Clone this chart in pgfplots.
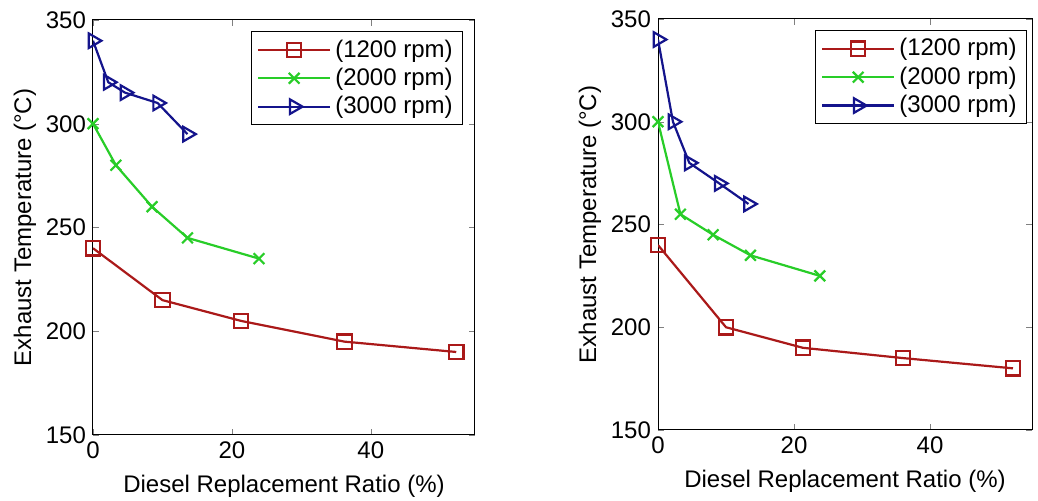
\documentclass[border=0pt]{standalone}
\usepackage{fontspec}
\setmainfont{Liberation Sans}
\usepackage{pgfplots}
\pgfplotsset{compat=1.18}

\definecolor{cred}{RGB}{170,25,25}
\definecolor{cgreen}{RGB}{40,205,40}
\definecolor{cblue}{RGB}{20,20,140}

\pgfplotsset{
  panel/.style={
    scale only axis,
    xmin=0, xmax=55,
    ymin=150, ymax=350,
    xtick={0,20,40},
    ytick={150,200,250,300,350},
    tick align=inside,
    major tick length=3pt,
    axis line style={line width=0.5pt},
    font=\fontsize{12}{14}\selectfont,
    /pgf/number format/assume math mode=true,
    xlabel={Diesel Replacement Ratio (\%)},
    ylabel={Exhaust Temperature (°C)},
    xlabel style={yshift=-1pt},
    ylabel style={yshift=-2pt},
    legend cell align=left,
    legend style={anchor=north east, draw=black, line width=0.5pt,
      font=\fontsize{12}{15}\selectfont, row sep=0pt, inner xsep=3pt},
    legend image code/.code={%
      \draw[mark repeat=2,mark phase=2,#1] plot coordinates {(0pt,0pt) (18pt,0pt) (36pt,0pt)};},
  },
  s1200/.style={color=cred, line width=1.1pt, mark=square, mark size=3.6pt},
  s2000/.style={color=cgreen, line width=1.1pt, mark=x, mark size=3.8pt},
  s3000/.style={color=cblue, line width=1.1pt, mark=triangle, mark size=4.2pt, mark options={rotate=-90}},
}

\begin{document}
\begin{tikzpicture}
\useasboundingbox (0,0) rectangle (519pt,250.5pt);

\begin{axis}[panel, at={(46.5pt,33pt)}, anchor=south west,
  width=191pt, height=207.5pt,
  legend style={at={(0.969,0.973)}}]
\addplot[s1200] coordinates {(0,240) (10,215) (21.3,205) (36.2,195) (52.3,190)};
\addplot[s2000] coordinates {(0,300) (3.3,280) (8.5,260) (13.6,245) (23.9,235)};
\addplot[s3000] coordinates {(0,340) (2.2,320) (4.6,315) (9.3,310) (13.6,295)};
\legend{(1200 rpm),(2000 rpm),(3000 rpm)}
\end{axis}

\begin{axis}[panel, at={(329pt,35.5pt)}, anchor=south west,
  width=187pt, height=205.5pt,
  legend style={at={(0.987,0.973)}}]
\addplot[s1200] coordinates {(0,240) (10,200) (21.3,190) (36,185) (52.2,180)};
\addplot[s2000] coordinates {(0,300) (3.3,255) (8.1,245) (13.6,235) (23.8,225)};
\addplot[s3000] coordinates {(0,340) (2.2,300) (4.6,280) (9,270) (13.3,260)};
\legend{(1200 rpm),(2000 rpm),(3000 rpm)}
\end{axis}
\end{tikzpicture}
\end{document}
